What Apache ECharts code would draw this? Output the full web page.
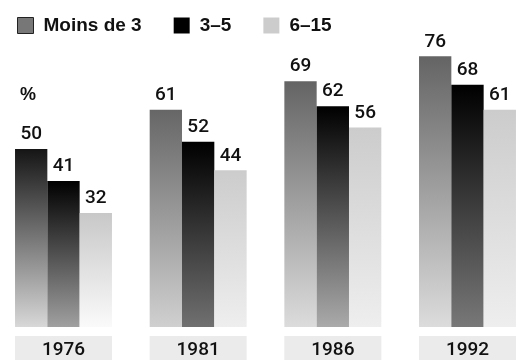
<!DOCTYPE html>
<html><head><meta charset="utf-8">
<script src="https://cdn.jsdelivr.net/npm/echarts@6/dist/echarts.min.js"></script>
<style>html,body{margin:0;padding:0;background:#fff}#c{width:518px;height:360px}</style>
</head><body><div id="c"></div>
<script>
var categories = ['1976', '1981', '1986', '1992'];
var seriesNames = ['Moins de 3', '3\u20135', '6\u201315'];
var moinsDe3 = [50, 61, 69, 76];
var de3a5 = [41, 52, 62, 68];
var de6a15 = [32, 44, 56, 61];

// gradient styles [top, bottom] per category
var grad1 = [['#151515', '#d8d8d8'], ['#666666', '#d0d0d0'], ['#646464', '#dcdcdc'], ['#646464', '#dcdcdc']];
var grad2 = [['#000000', '#a0a0a0'], ['#000000', '#707070'], ['#000000', '#aaaaaa'], ['#000000', '#787878']];
var grad3 = [['#c8c8c8', '#fafafa'], ['#cccccc', '#eeeeee'], ['#cccccc', '#eeeeee'], ['#cccccc', '#eeeeee']];
var legendColors = ['#777777', '#000000', '#cccccc'];

var FONT = '"Liberation Sans", Arial, sans-serif';
var NUMFONT = 'Roboto, "Liberation Sans", sans-serif';

function mk(vals, grads) {
  return vals.map(function (v, i) {
    return {
      value: v,
      itemStyle: {
        color: new echarts.graphic.LinearGradient(0, 0, 0, 1, [
          { offset: 0, color: grads[i][0] },
          { offset: 1, color: grads[i][1] }
        ])
      }
    };
  });
}

var label = { show: true, position: 'top', distance: 5, fontSize: 19, fontWeight: 500, color: '#111', fontFamily: NUMFONT };

var chart = echarts.init(document.getElementById('c'));
chart.setOption({
  animation: false,
  legend: {
    left: 17, top: 16, padding: 0, itemWidth: 16, itemHeight: 16, itemGap: 32, icon: 'rect',
    textStyle: { fontSize: 19, fontWeight: 'bold', color: '#111', fontFamily: FONT, padding: [0, 0, 0, 5] },
    data: [
      { name: seriesNames[0], itemStyle: { color: legendColors[0], borderColor: '#222', borderWidth: 1 } },
      { name: seriesNames[1], itemStyle: { color: legendColors[1] } },
      { name: seriesNames[2], itemStyle: { color: legendColors[2] } }
    ]
  },
  graphic: [{ type: 'text', left: 20, top: 86, style: { text: '%', fontSize: 18, fontWeight: 'bold', fill: '#111', fontFamily: FONT } }],
  grid: { left: 63.5, right: 50.5, top: 42, bottom: 33, outerBoundsMode: 'none', containLabel: false },
  xAxis: {
    type: 'category', data: categories, boundaryGap: false,
    axisLine: { show: false }, axisTick: { show: false }, splitLine: { show: false },
    axisLabel: { margin: 9, backgroundColor: '#ebebeb', width: 97, align: 'center', padding: [5, 0, 5, 0], lineHeight: 19, fontSize: 19, fontWeight: 500, color: '#111', fontFamily: NUMFONT }
  },
  yAxis: { type: 'value', min: 0, max: 80, show: false, splitLine: { show: false } },
  series: [
    { name: seriesNames[0], type: 'bar', barGap: '0%', barCategoryGap: '28%', itemStyle: { color: legendColors[0] }, label: label, data: mk(moinsDe3, grad1) },
    { name: seriesNames[1], type: 'bar', barGap: '0%', barCategoryGap: '28%', itemStyle: { color: legendColors[1] }, label: label, data: mk(de3a5, grad2) },
    { name: seriesNames[2], type: 'bar', barGap: '0%', barCategoryGap: '28%', itemStyle: { color: legendColors[2] }, label: label, data: mk(de6a15, grad3) }
  ]
});
</script></body></html>
